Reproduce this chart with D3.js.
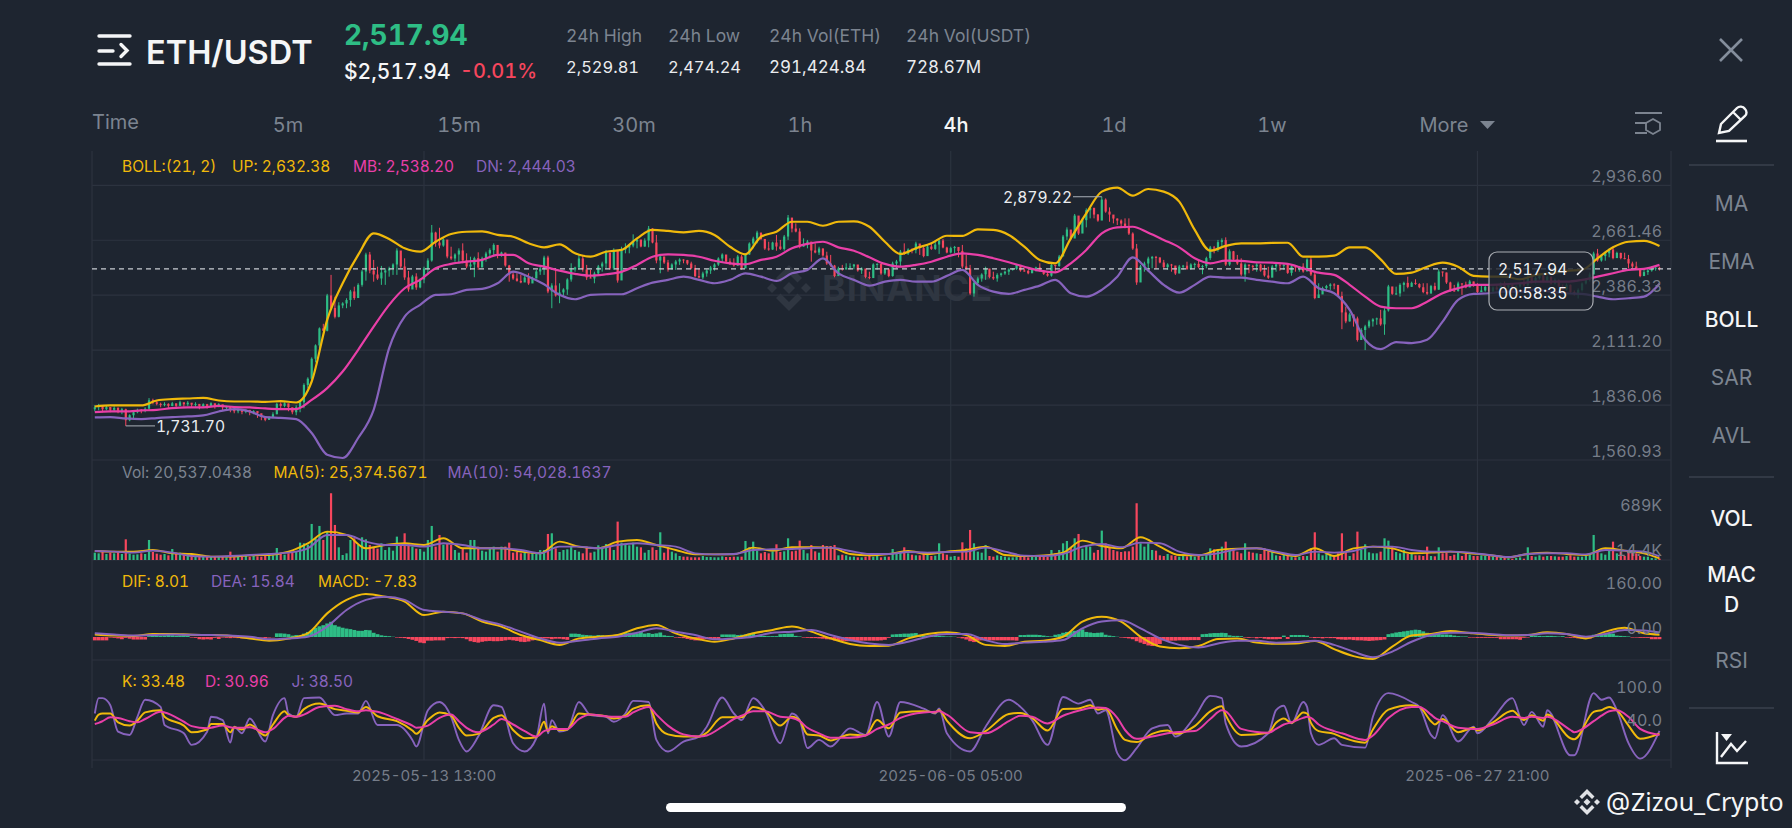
<!DOCTYPE html>
<html lang="en">
<head>
<meta charset="utf-8">
<title>ETH/USDT 4h</title>
<script src="https://d3js.org/d3.v7.min.js"></script>
<style>
html,body{margin:0;padding:0;background:#1e2530;overflow:hidden;}
svg{display:block;}
svg text{font-family:Inter,"Noto Sans",sans-serif;font-feature-settings:"tnum" 1;}
</style>
</head>
<body>
<div id="chart"></div>
<script>
// 4h candles (10 candles a row). open = previous close.
var closes = [
1825,1832,1815,1826,1812,1822,1808,1815,1760,1785,
1800,1812,1808,1818,1860,1850,1842,1838,1842,1832,
1845,1832,1850,1840,1848,1838,1842,1830,1840,1832,
1845,1835,1840,1825,1828,1812,1805,1815,1802,1812,
1800,1806,1795,1780,1762,1772,1790,1842,1832,1845,
1825,1800,1825,1850,1937,1968,2068,2135,2220,2208,
2385,2322,2278,2335,2345,2362,2405,2372,2438,2505,
2590,2510,2490,2470,2500,2510,2520,2540,2610,2530,
2475,2415,2480,2425,2465,2520,2560,2700,2650,2635,
2665,2580,2570,2590,2610,2560,2530,2540,2572,2525,
2570,2595,2612,2638,2585,2600,2535,2490,2470,2458,
2450,2475,2445,2470,2505,2520,2575,2405,2435,2385,
2400,2415,2465,2515,2525,2570,2515,2475,2470,2495,
2530,2545,2600,2520,2610,2460,2615,2625,2635,2655,
2665,2630,2660,2720,2650,2560,2580,2550,2515,2540,
2555,2565,2562,2545,2522,2482,2475,2495,2510,2525,
2540,2570,2590,2555,2545,2535,2580,2520,2590,2645,
2670,2700,2668,2620,2615,2650,2630,2618,2680,2775,
2720,2705,2630,2640,2655,2610,2600,2620,2585,2545,
2535,2482,2520,2515,2525,2530,2540,2510,2520,2478,
2472,2540,2543,2495,2515,2482,2545,2555,2605,2595,
2615,2612,2645,2622,2582,2630,2618,2640,2660,2625,
2600,2622,2628,2608,2530,2520,2395,2448,2470,2490,
2520,2478,2470,2488,2495,2504,2515,2518,2538,2510,
2508,2496,2516,2525,2510,2493,2484,2538,2532,2580,
2680,2715,2670,2785,2695,2762,2812,2824,2790,2760,
2865,2805,2790,2770,2760,2745,2730,2695,2620,2450,
2530,2545,2570,2578,2575,2550,2527,2540,2535,2495,
2530,2534,2518,2540,2543,2527,2532,2572,2625,2620,
2652,2662,2540,2606,2565,2545,2490,2540,2533,2530,
2540,2510,2485,2474,2530,2540,2535,2538,2498,2530,
2528,2530,2505,2565,2490,2372,2390,2422,2432,2440,
2438,2382,2300,2255,2290,2270,2162,2212,2230,2255,
2265,2270,2240,2310,2430,2393,2395,2438,2448,2428,
2448,2442,2426,2402,2394,2432,2414,2505,2500,2450,
2410,2408,2445,2440,2425,2455,2432,2402,2410,2428,
2405,2425,2415,2445,2425,2438,2412,2430,2445,2435,
2480,2450,2472,2485,2455,2478,2445,2462,2430,2415,
2438,2402,2392,2412,2445,2462,2490,2595,2560,2582,
2596,2615,2572,2598,2572,2568,2545,2530,2518,2482,
2502,2510,2520,2524,2517.94];
var highs = [
1835,1842,1832,1832,1825,1830,1825,1822,1818,1790,
1805,1818,1815,1825,1871,1868,1862,1848,1850,1845,
1852,1842,1858,1848,1856,1845,1850,1840,1845,1842,
1850,1842,1845,1832,1832,1825,1815,1820,1812,1815,
1808,1810,1800,1790,1775,1780,1800,1848,1850,1850,
1842,1820,1835,1860,1945,1975,2075,2140,2225,2243,
2393,2488,2379,2351,2351,2371,2413,2429,2446,2513,
2599,2603,2563,2529,2533,2521,2529,2546,2621,2583,
2571,2508,2488,2496,2471,2529,2571,2738,2704,2724,
2671,2643,2629,2596,2621,2646,2596,2579,2579,2601,
2579,2604,2621,2646,2613,2604,2596,2538,2504,2496,
2488,2488,2496,2479,2513,2529,2584,2584,2446,2513,
2446,2421,2471,2546,2529,2588,2588,2538,2513,2504,
2538,2554,2613,2571,2621,2604,2629,2646,2643,2691,
2671,2663,2671,2733,2721,2688,2588,2579,2563,2546,
2563,2571,2566,2563,2554,2538,2521,2504,2516,2533,
2546,2576,2596,2579,2571,2571,2588,2588,2596,2651,
2679,2709,2696,2654,2654,2654,2688,2663,2688,2788,
2763,2746,2721,2671,2663,2646,2646,2629,2621,2604,
2588,2538,2529,2538,2546,2546,2543,2529,2526,2513,
2504,2546,2546,2538,2521,2521,2554,2563,2613,2646,
2621,2621,2654,2629,2629,2638,2646,2654,2671,2668,
2629,2629,2633,2613,2638,2588,2538,2454,2479,2496,
2529,2513,2504,2496,2499,2509,2521,2521,2543,2524,
2521,2513,2521,2529,2546,2509,2504,2546,2538,2588,
2688,2726,2696,2793,2771,2771,2821,2830,2796,2793,
2879.22,2871,2826,2783,2771,2766,2771,2771,2701,2643,
2538,2554,2579,2583,2583,2576,2563,2546,2543,2529,
2538,2538,2554,2546,2549,2563,2538,2579,2633,2633,
2663,2671,2676,2616,2608,2588,2571,2546,2538,2538,
2546,2543,2538,2529,2538,2546,2538,2543,2538,2538,
2533,2533,2546,2571,2579,2504,2446,2429,2438,2446,
2446,2421,2404,2329,2299,2279,2279,2221,2238,2263,
2271,2274,2313,2321,2438,2416,2429,2446,2454,2479,
2454,2466,2446,2446,2446,2438,2449,2516,2504,2499,
2454,2438,2454,2446,2454,2463,2454,2446,2438,2433,
2436,2430,2440,2450,2455,2445,2445,2435,2450,2465,
2490,2485,2480,2495,2490,2485,2480,2470,2465,2440,
2445,2440,2410,2420,2450,2470,2500,2604,2618,2588,
2604,2621,2629,2604,2599,2599,2588,2554,2554,2521,
2513,2521,2529,2529,2529];
var lows = [
1805,1810,1800,1810,1800,1805,1795,1790,1731.7,1755,
1770,1795,1795,1800,1812,1840,1835,1825,1830,1822,
1830,1818,1835,1828,1832,1825,1828,1815,1825,1818,
1830,1818,1825,1808,1810,1800,1795,1795,1790,1795,
1785,1790,1772,1760,1755,1762,1770,1790,1820,1825,
1805,1790,1785,1800,1820,1920,1960,2050,2120,2205,
2205,2312,2270,2275,2321,2321,2329,2363,2379,2429,
2459,2496,2454,2463,2438,2438,2479,2488,2488,2521,
2463,2404,2446,2413,2421,2446,2488,2554,2629,2621,
2629,2571,2563,2554,2546,2546,2521,2513,2476,2513,
2533,2554,2571,2588,2571,2579,2529,2454,2463,2454,
2446,2463,2438,2463,2471,2488,2488,2396,2321,2379,
2346,2379,2388,2454,2504,2513,2504,2463,2471,2446,
2488,2504,2521,2513,2513,2449,2513,2596,2596,2626,
2621,2626,2629,2626,2646,2546,2496,2543,2504,2521,
2513,2538,2546,2538,2516,2476,2471,2466,2479,2493,
2509,2533,2549,2546,2538,2529,2533,2513,2554,2588,
2621,2646,2663,2613,2609,2613,2609,2613,2609,2663,
2701,2701,2621,2629,2621,2554,2596,2588,2579,2538,
2529,2476,2504,2509,2516,2516,2516,2504,2493,2471,
2466,2496,2513,2488,2488,2476,2479,2521,2529,2588,
2588,2596,2596,2588,2576,2588,2613,2613,2593,2621,
2596,2596,2596,2576,2521,2513,2388,2379,2438,2454,
2463,2471,2463,2454,2479,2488,2488,2509,2513,2504,
2504,2491,2504,2504,2504,2488,2479,2479,2504,2529,
2588,2663,2663,2679,2688,2721,2726,2771,2771,2754,
2763,2799,2754,2746,2738,2726,2721,2688,2613,2438,
2488,2504,2504,2521,2521,2546,2521,2513,2504,2488,
2496,2513,2513,2513,2521,2521,2491,2521,2563,2596,
2604,2629,2533,2533,2559,2538,2483,2454,2496,2508,
2504,2504,2479,2468,2496,2504,2509,2513,2493,2484,
2504,2504,2499,2521,2483,2366,2383,2393,2413,2413,
2416,2376,2216,2246,2254,2229,2154,2163,2111.2,2221,
2229,2238,2233,2188,2304,2388,2388,2379,2404,2421,
2429,2438,2421,2396,2388,2404,2409,2413,2479,2443,
2404,2404,2404,2388,2421,2429,2429,2396,2404,2404,
2398,2398,2410,2410,2420,2420,2405,2405,2425,2430,
2430,2445,2445,2465,2450,2450,2440,2440,2425,2410,
2410,2395,2385,2370,2405,2440,2455,2496,2554,2554,
2559,2576,2566,2579,2566,2566,2521,2521,2513,2476,
2483,2488,2504,2509,2510];
var firstOpen = 1815;

// volume per candle, thousands
var volumes = [
110,100,120,90,110,100,120,90,310,95,
80,85,100,90,300,120,95,80,90,70,
165,110,110,90,100,80,60,55,55,60,
50,55,50,45,40,125,40,50,45,60,
50,60,55,50,65,70,70,180,110,80,
100,110,120,260,250,230,540,325,510,300,
420,1000,525,190,75,100,300,325,225,340,
310,225,200,170,250,150,190,140,350,225,
400,240,200,170,165,125,300,510,200,375,
230,250,225,150,110,175,110,300,300,200,
140,125,175,200,125,200,200,260,110,120,
100,110,100,110,100,150,150,390,400,175,
120,150,160,200,150,125,100,200,110,125,
220,200,240,220,150,575,260,240,220,260,
200,190,110,150,190,150,415,110,190,125,
100,60,50,50,40,40,40,60,45,45,
40,40,55,45,45,50,50,50,285,190,
275,140,100,120,100,130,235,120,130,325,
130,140,290,150,100,225,130,110,225,210,
210,225,70,80,70,50,50,40,40,50,
60,50,60,40,50,50,165,90,110,190,
100,80,70,70,90,100,60,65,250,100,
80,50,60,50,265,175,450,250,125,110,
225,60,50,70,60,50,40,40,50,50,
50,40,45,50,60,55,50,150,100,150,
250,285,180,325,390,170,220,200,110,150,
440,250,180,150,130,120,130,130,200,850,
250,200,250,150,140,70,60,90,70,60,
50,60,55,60,50,60,50,100,175,160,
150,200,275,150,175,125,100,250,125,110,
100,90,175,130,150,70,60,100,70,50,
40,50,60,60,175,415,100,70,90,70,
60,100,400,130,60,100,425,150,235,115,
100,100,125,325,290,200,120,100,150,90,
100,70,70,60,200,60,55,190,100,110,
60,80,120,60,90,80,60,60,70,60,
60,50,50,40,30,25,20,30,40,20,
190,60,50,70,50,60,60,55,50,50,
60,70,50,50,50,60,80,375,150,100,
80,140,275,100,125,60,120,150,100,60,
50,50,30,25,20.5];

// MACD histogram per candle
var macdHist = [
-12,-12,-12,-12,-2,-3,-5,-8,-3,-6,
-9,-9,-9,-9,3,4,5,4,5,7,
6,4,5,6,4,-2,-3,-8,-9,-8,
-9,-3,-7,-2,-3,-4,-3,-4,-5,-5,
-3,-6,-4,-2,-5,-2,-1,13,13,12,
10,5,7,6,12,18,25,33,38,42,
48,54,42,37,33,30,28,25,22,22,
25,24,15,10,6,4,3,1,-2,-3,
-4,-7,-10,-14,-20,-22,-13,-13,-12,-12,
-12,-4,-3,-4,-3,-4,-8,-15,-18,-20,
-17,-15,-14,-15,-15,-14,-12,-10,-12,-14,
-17,-18,-16,-12,-10,-7,-5,-5,-8,-6,
-6,-8,-10,12,12,11,8,7,6,5,
7,6,4,4,5,8,12,14,15,15,
13,20,12,14,11,13,16,6,4,3,
-2,-3,-4,-7,-10,-12,-12,-9,-8,-8,
-8,-8,9,9,9,9,7,8,9,12,
15,6,4,4,3,3,3,10,11,12,
12,4,2,-2,-3,-4,-4,-5,-6,-8,
-9,-12,-13,-14,-15,-15,-14,-14,-13,-13,
-13,-13,-13,-12,-10,-3,9,10,11,12,
12,13,14,8,6,5,5,4,4,3,
2,2,1,-2,-5,-9,-15,-18,-13,-12,
-12,-12,-12,-12,-12,-12,-12,-12,-13,7,
7,8,8,8,7,5,3,2,8,10,
15,18,20,22,25,27,18,16,14,15,
16,8,5,3,1,-2,-3,-5,-8,-15,
-20,-25,-30,-32,-30,-25,-12,-14,-13,-13,
-12,-12,-12,-11,-11,-11,10,11,13,14,
14,15,14,6,4,4,3,-2,-3,-2,
-5,-3,-6,-8,-8,-8,-7,5,-7,7,
7,7,7,5,-2,-4,-3,-5,-3,-4,
-4,-8,-9,-10,-9,-11,-12,-12,-13,-14,
-13,-12,-11,-9,10,13,16,18,20,22,
24,26,25,20,15,13,12,12,9,9,
8,5,3,2,2,-2,-2,-3,-3,-3,
-3,-3,-3,-8,-8,-8,-8,-8,-10,-3,
-2,5,5,4,3,4,4,3,2,3,
-2,-3,-3,-5,-6,-6,-6,8,9,10,
10,11,12,5,4,3,2,-2,-2,-3,
-3,-3,-8,-8,-7.83];

// BOLL, read every 4th candle
var bollUp = [1829,1834,1834,1834,1859,1866,1869,1872,1859,1854,1854,1852,1856,1849,1954,2263,2446,2588,2696,2668,2621,2604,2654,2693,2704,2706,2688,2679,2646,2626,2641,2596,2579,2604,2613,2671,2713,
2708,2701,2708,2688,2629,2591,2679,2704,2754,2754,2734,2754,2756,2729,2654,2593,2621,2646,2684,2683,2716,2713,2688,2629,2563,2546,2671,2796,2905,2925,2885,2918,2905,2855,2713,2609,2633,2646,
2646,2648,2649,2579,2579,2584,2626,2626,2566,2493,2499,2529,2549,2529,2483,2479,2479,2466,2488,2496,2508,2513,2571,2626,2654,2658,2632.38];
var bollMid = [1801,1804,1804,1809,1812,1821,1824,1824,1832,1826,1824,1819,1816,1816,1862,1921,2004,2113,2229,2338,2421,2463,2521,2543,2554,2563,2588,2588,2546,2529,2509,2493,2484,2491,2503,2538,2579,
2591,2588,2579,2559,2546,2541,2563,2579,2621,2643,2654,2626,2609,2576,2543,2529,2538,2554,2579,2596,2588,2571,2551,2529,2509,2501,2546,2613,2696,2726,2729,2699,2663,2626,2571,2546,2559,2558,
2551,2549,2543,2521,2499,2488,2438,2379,2329,2321,2321,2354,2396,2421,2438,2438,2441,2446,2454,2454,2454,2463,2479,2496,2513,2518,2538.2];
var bollDn = [1774,1776,1769,1766,1771,1776,1779,1784,1804,1816,1804,1776,1772,1766,1696,1587,1571,1671,1812,2121,2279,2338,2388,2391,2413,2418,2446,2504,2479,2441,2388,2366,2388,2391,2391,2421,2449,
2463,2479,2463,2446,2463,2496,2479,2458,2496,2513,2571,2496,2463,2434,2454,2463,2454,2454,2483,2513,2438,2404,2393,2413,2434,2463,2396,2379,2413,2479,2576,2509,2438,2399,2438,2479,2474,2474,
2463,2454,2446,2479,2421,2396,2313,2163,2116,2151,2146,2163,2254,2363,2393,2396,2404,2404,2413,2404,2396,2393,2379,2366,2371,2379,2444.03];

// volume MAs and MACD lines, read every 5th candle plus the last one (thousands for volume)
var volMa5 = [135,125,125,150,100,90,50,50,70,75,125,250,425,375,175,225,250,225,325,175,175,175,125,100,275,200,175,275,300,225,
150,85,85,85,185,140,190,190,185,90,70,90,135,90,125,150,200,75,60,70,110,290,210,175,340,200,75,70,150,170,
175,110,60,175,60,175,200,175,100,110,125,100,75,40,90,110,90,75,175,140,100,25.37];
var volMa10 = [135,125,110,140,110,60,50,60,75,90,110,175,375,375,275,225,225,200,250,225,175,175,150,100,200,200,175,225,250,225,
200,100,85,90,150,160,165,180,185,135,90,90,120,110,120,125,185,125,65,60,90,200,240,190,260,250,125,75,100,160,
175,125,75,125,110,135,200,200,150,125,125,110,75,45,90,100,100,85,150,140,125,54.03];
var dif = [9,5,4,11,11,8,7,4,-5,-13,-5,13,84,132,153,143,126,78,90,84,55,37,7,-11,-28,-5,1,7,31,43,
13,-5,-17,-5,13,25,37,19,-5,-25,-32,-31,-5,11,17,7,-28,-32,-17,-13,1,55,72,55,1,-34,-40,-32,-7,-5,
-20,-24,-23,-14,-43,-68,-78,-34,5,11,21,14,8,5,7,17,11,-5,19,33,13,8.01];
var dea = [13,9,5,7,9,8,7,5,1,-8,-5,1,37,96,132,143,132,96,90,84,60,43,19,-5,-20,-13,-5,1,15,31,
19,7,-8,-5,1,15,19,25,7,-11,-23,-28,-17,1,11,11,-11,-25,-20,-17,-11,31,55,60,31,-5,-28,-37,-23,-13,
-13,-20,-18,-13,-28,-52,-72,-52,-17,7,15,15,11,6,7,13,11,1,11,25,23,15.84];

// KDJ, read at the turning points of J
var kdjIdx = [0,1,2,4,6,9,11,13,17,18,23,25,29,30,33,35,36,38,40,44,46,49,50,52,54,58,62,65,68,70,73,78,82,83,86,89,92,94,96,99,103,105,108,111,114,116,117,118,120,122,125,128,132,134,137,139,143,145,
148,152,156,158,162,165,167,170,173,177,180,182,184,187,190,195,199,202,205,208,214,217,218,220,226,230,236,239,242,246,250,254,257,259,261,264,266,269,273,277,279,284,288,291,292,296,
303,305,307,309,312,313,314,316,320,322,328,330,334,340,342,345,346,348,352,356,357,361,366,369,371,374,375,381,382,387,389,391,393,396,399,404];
var kdjJ = [70,98,98,85,37,31,64,95,82,49,34,13,37,64,58,17,46,34,61,19,67,98,70,64,98,99,67,70,70,93,49,49,22,10,76,91,64,22,1,28,85,82,16,1,25,88,34,58,37,40,91,67,64,55,70,93,91,22,
1,19,28,46,99,70,58,98,76,16,70,58,7,22,10,43,31,91,28,91,79,70,79,34,1,46,95,82,58,13,100,88,95,70,76,-2,-15,7,43,49,28,64,102,98,52,10,
34,76,84,52,91,82,34,13,25,13,8,64,107,91,82,31,25,67,19,46,34,61,98,49,73,46,76,-6,-6,107,95,99,76,16,-12,38.5];
var kdjD = [51,53,56,63,62,56,54,60,73,72,55,47,43,44,48,45,44,44,45,36,42,62,66,64,68,82,84,78,74,76,73,60,48,44,48,62,68,56,44,36,50,60,50,38,28,38,40,42,42,42,60,68,65,64,64,72,82,68,
48,32,28,30,46,60,66,74,74,64,62,56,44,34,26,26,30,42,50,62,72,73,74,68,36,34,56,66,64,52,66,75,80,81,80,62,40,24,28,34,36,38,60,76,74,42,
35,42,50,54,62,64,62,50,38,34,22,30,62,82,82,68,62,56,44,42,42,50,64,62,64,62,64,40,36,56,66,74,76,64,42,30.96];
var kdjK = [57,68,70,70,54,48,57,72,76,64,48,36,41,51,51,36,45,41,50,30,50,74,67,64,78,88,78,75,72,82,65,56,39,33,58,72,66,44,30,33,62,67,40,25,27,55,38,47,40,41,70,68,65,61,66,79,85,52,
32,28,28,35,63,63,63,82,75,48,64,57,32,30,21,32,30,58,43,72,74,72,76,57,25,38,69,71,62,39,78,79,85,77,79,41,22,18,33,39,33,47,74,83,67,31,
35,53,61,53,72,70,53,38,33,27,17,41,77,85,82,56,50,60,36,44,39,54,75,58,67,57,68,25,23,73,76,82,76,48,24,33.48];

var priceTicks = [2936.60,2661.46,2386.33,2111.20,1836.06,1560.93];
var volTicks = [689,14.4];
var macdTicks = [160,0];
var kdjTicks = [100,40];
var timeTickIdx = [85,221,357];
var timeTickLabels = ["2025-05-13 13:00","2025-06-05 05:00","2025-06-27 21:00"];
var lastPrice = 2517.94;

var tabs = ["5m","15m","30m","1h","4h","1d","1w"];
var tabX = [288,459,634,800,956,1114,1272];
var navTop = ["MA","EMA","BOLL","SAR","AVL"];
var navTopY = [203,261,319,377,435];

var green="#2ebd85", red="#f6465d", yellow="#f0b90b", pink="#e93fa8", purple="#8763bd";
var gridCol="#2c333f", axisCol="#767d89", gray="#7c8490", white="#eaecef";

var n = closes.length;
var opens = closes.map(function(c,i){ return i==0 ? firstOpen : closes[i-1]; });

var svg = d3.select("#chart").append("svg").attr("width",1792).attr("height",828);
svg.append("rect").attr("width",1792).attr("height",828).attr("fill","#1e2530");

var x = d3.scaleLinear().domain([0,404]).range([94.8,1659.5]);
var yPrice = d3.scaleLinear().domain([1560.93,2936.60]).range([460,185.3]);
var yVol = d3.scaleLinear().domain([0,689]).range([560,514]);
var yMacd = d3.scaleLinear().domain([0,160]).range([637,592]);
var yKdj = d3.scaleLinear().domain([0,100]).range([752,697]);

var left=92, right=1671;

function txt(s,px,py,size,col,anchor,weight){
  return svg.append("text").text(s).attr("x",px).attr("y",py)
    .attr("font-size",size).attr("fill",col)
    .attr("text-anchor",anchor||"start").attr("font-weight",weight||400)
    .attr("dominant-baseline","central");
}

// grid
var grid = svg.append("g").attr("stroke",gridCol).attr("stroke-width",1.2);
priceTicks.forEach(function(t){
  grid.append("line").attr("x1",left).attr("x2",right).attr("y1",yPrice(t)).attr("y2",yPrice(t));
});
[yVol(0),660,760].forEach(function(py){
  grid.append("line").attr("x1",left).attr("x2",right).attr("y1",py).attr("y2",py);
});
timeTickIdx.forEach(function(t){
  grid.append("line").attr("x1",x(t)).attr("x2",x(t)).attr("y1",151).attr("y2",760);
});
[left,right].forEach(function(px){
  grid.append("line").attr("x1",px).attr("x2",px).attr("y1",151).attr("y2",768);
});

// watermark
var wm = svg.append("g").attr("fill","#2f3641").attr("transform","translate(789,288)");
function diamond(g,cx,cy,r){
  g.append("path").attr("d","M"+cx+","+(cy-r)+"L"+(cx+r)+","+cy+"L"+cx+","+(cy+r)+"L"+(cx-r)+","+cy+"Z");
}
diamond(wm,0,0,6); diamond(wm,-17,0,5); diamond(wm,17,0,5);
wm.append("path").attr("d","M0,-23L13,-10L8.5,-5.5L0,-14L-8.5,-5.5L-13,-10Z");
wm.append("path").attr("d","M0,23L13,10L8.5,5.5L0,14L-8.5,5.5L-13,10Z");
txt("BINANCE",822,288,36,"#2f3641","start",700).attr("letter-spacing",1);

// candles
var candles = svg.append("g");
candles.selectAll("line").data(d3.range(n)).enter().append("line")
  .attr("x1",function(i){return x(i);}).attr("x2",function(i){return x(i);})
  .attr("y1",function(i){return yPrice(highs[i]);}).attr("y2",function(i){return yPrice(lows[i]);})
  .attr("stroke",function(i){return closes[i]>=opens[i]?green:red;}).attr("stroke-width",1);
candles.selectAll("rect").data(d3.range(n)).enter().append("rect")
  .attr("x",function(i){return x(i)-1.1;}).attr("width",2.2)
  .attr("y",function(i){return yPrice(Math.max(opens[i],closes[i]));})
  .attr("height",function(i){return Math.max(1,Math.abs(yPrice(opens[i])-yPrice(closes[i])));})
  .attr("fill",function(i){return closes[i]>=opens[i]?green:red;});

// last price line
svg.append("line").attr("x1",left).attr("x2",right).attr("y1",yPrice(lastPrice)).attr("y2",yPrice(lastPrice))
  .attr("stroke","#c9cdd2").attr("stroke-width",1.2).attr("stroke-dasharray","5,4");

function drawLine(idx,vals,scale,col,w){
  var line = d3.line().x(function(d){return x(d[0]);}).y(function(d){return scale(d[1]);}).curve(d3.curveMonotoneX);
  svg.append("path").datum(idx.map(function(t,i){return [t,vals[i]];}))
    .attr("d",line).attr("fill","none").attr("stroke",col).attr("stroke-width",w||1.7).attr("stroke-linejoin","round");
}
var step4 = d3.range(0,405,4);
var step5 = d3.range(0,401,5).concat([404]);
drawLine(step4,bollUp,yPrice,yellow,2.2);
drawLine(step4,bollMid,yPrice,pink,2.2);
drawLine(step4,bollDn,yPrice,purple,2.2);

// high / low markers
svg.append("path").attr("d","M"+x(8)+","+yPrice(1731.7)+"H155").attr("stroke","#aab0b8").attr("fill","none").attr("stroke-width",1);
txt("1,731.70",156,426,15.6,white);
svg.append("path").attr("d","M"+x(260)+","+yPrice(2879.22)+"H1073").attr("stroke","#aab0b8").attr("fill","none").attr("stroke-width",1);
txt("2,879.22",1072,197.5,15.6,white,"end");

// volume
svg.append("g").selectAll("rect").data(d3.range(n)).enter().append("rect")
  .attr("x",function(i){return x(i)-1.1;}).attr("width",2.2)
  .attr("y",function(i){return yVol(volumes[i]);})
  .attr("height",function(i){return yVol(0)-yVol(volumes[i]);})
  .attr("fill",function(i){return closes[i]>=opens[i]?green:red;});
drawLine(step5,volMa5,yVol,yellow,1.9);
drawLine(step5,volMa10,yVol,purple,1.9);

// macd
svg.append("g").selectAll("rect").data(d3.range(n)).enter().append("rect")
  .attr("x",function(i){return x(i)-1.9;}).attr("width",3.8)
  .attr("y",function(i){return macdHist[i]>=0?yMacd(macdHist[i]):yMacd(0);})
  .attr("height",function(i){return Math.abs(yMacd(macdHist[i])-yMacd(0));})
  .attr("fill",function(i){return macdHist[i]>=0?green:red;});
drawLine(step5,dif,yMacd,yellow,2);
drawLine(step5,dea,yMacd,purple,2);

// kdj
drawLine(kdjIdx,kdjJ,yKdj,purple,1.9);
drawLine(kdjIdx,kdjK,yKdj,yellow,2);
drawLine(kdjIdx,kdjD,yKdj,pink,2);

// axis labels
priceTicks.forEach(function(t){ txt(d3.format(",.2f")(t),1662,yPrice(t)-9,16,axisCol,"end"); });
volTicks.forEach(function(t){ txt(t+"K",1662,yVol(t)-9,16,axisCol,"end"); });
macdTicks.forEach(function(t){ txt(d3.format(".2f")(t),1662,yMacd(t)-9.5,16,axisCol,"end"); });
kdjTicks.forEach(function(t){ txt(d3.format(".1f")(t),1662,yKdj(t)-10,16,axisCol,"end"); });
timeTickIdx.forEach(function(t,i){ txt(timeTickLabels[i],x(t),775,15,axisCol,"middle"); });

// indicator captions
var capSize = 15.5;
txt("BOLL:(21, 2)",122,166.5,capSize,yellow);
txt("UP: 2,632.38",232,166.5,capSize,yellow);
txt("MB: 2,538.20",353,166.5,capSize,pink);
txt("DN: 2,444.03",476,166.5,capSize,purple);
txt("Vol: 20,537.0438",122,472,capSize,gray);
txt("MA(5): 25,374.5671",273.5,472,capSize,yellow);
txt("MA(10): 54,028.1637",447.5,472,capSize,purple);
txt("DIF: 8.01",122,581.5,capSize,yellow);
txt("DEA: 15.84",211,581.5,capSize,purple);
txt("MACD: -7.83",318,581.5,capSize,yellow);
txt("K: 33.48",122,681.5,capSize,yellow);
txt("D: 30.96",205,681.5,capSize,pink);
txt("J: 38.50",291.5,681.5,capSize,purple);

// countdown box
svg.append("rect").attr("x",1489).attr("y",252).attr("width",104).attr("height",58).attr("rx",8)
  .attr("fill","#1e2530").attr("fill-opacity",0.82).attr("stroke","#a9adb3").attr("stroke-width",1.2);
txt("2,517.94",1498,269,15.7,"#f2f3f5");
txt("00:58:35",1498,293,15.7,"#f2f3f5");
svg.append("path").attr("d","M1577,263L1583,269L1577,275").attr("fill","none").attr("stroke","#f2f3f5").attr("stroke-width",1.5);

// header
var head = svg.append("g").attr("stroke","#f5f6f7").attr("stroke-width",3.4).attr("fill","none").attr("stroke-linecap","round");
head.append("path").attr("d","M99,36H130M99,51H113M99,64H130M121,44.5L127,50.5L121,56.5");
txt("ETH/USDT",146,52,32.5,"#f5f6f7","start",600);
txt("2,517.94",344,35,28,green,"start",700);
txt("$2,517.94",344,71,21,"#f5f6f7","start",500);
txt("-0.01%",460,71,20,red,"start",500);
txt("24h High",566,35,17.5,gray);
txt("24h Low",668,35,17.5,gray);
txt("24h Vol(ETH)",769,35,17.5,gray);
txt("24h Vol(USDT)",906,35,17.5,gray);
txt("2,529.81",566,66.5,16.5,white);
txt("2,474.24",668,66.5,16.5,white);
txt("291,424.84",769,66.5,17,white);
txt("728.67M",906,66.5,17,white);

// close
svg.append("path").attr("d","M1720,39L1742,61M1742,39L1720,61").attr("stroke","#848e9c").attr("stroke-width",2.6).attr("fill","none");

// tabs
txt("Time",92,122,20,gray);
tabs.forEach(function(t,i){
  txt(t,tabX[i],125,20,t=="4h"?"#f5f6f7":gray,"middle",t=="4h"?500:400);
});
txt("More",1444,125,20,gray,"middle");
svg.append("path").attr("d","M1480,121H1495L1487.5,129Z").attr("fill",gray);
svg.append("path").attr("d","M1635,113H1662M1635,123H1647M1635,133H1647M1653,119L1660,123V130L1653,134L1646,130V123Z")
  .attr("stroke",gray).attr("stroke-width",1.8).attr("fill","none");

// right nav
svg.append("path").attr("d","M1719,133L1721,124L1737,108C1739,106 1743,106 1745,109C1747,111 1747,114 1745,116L1729,131Z M1733,112L1741,120")
  .attr("stroke","#f5f6f7").attr("stroke-width",2.4).attr("fill","none");
svg.append("line").attr("x1",1716).attr("x2",1747).attr("y1",141).attr("y2",141).attr("stroke","#f5f6f7").attr("stroke-width",2.6);
[165,477,708].forEach(function(py){
  svg.append("line").attr("x1",1689).attr("x2",1774).attr("y1",py).attr("y2",py).attr("stroke","#3a414c").attr("stroke-width",1.5);
});
navTop.forEach(function(t,i){
  txt(t,1731.5,navTopY[i],21,t=="BOLL"?"#f5f6f7":"#7c8490","middle",t=="BOLL"?500:400);
});
txt("VOL",1731.5,518,21,"#f5f6f7","middle",500);
txt("MAC",1731.5,574,21,"#f5f6f7","middle",500);
txt("D",1731.5,604,21,"#f5f6f7","middle",500);
txt("RSI",1731.5,660,21,"#7c8490","middle");
svg.append("path").attr("d","M1717,732V763H1748M1721,757L1731,744L1737,751L1746,741")
  .attr("stroke","#f5f6f7").attr("stroke-width",2.4).attr("fill","none");
svg.append("path").attr("d","M1721,734H1732L1726.5,741Z").attr("fill","#f5f6f7");

// footer
svg.append("rect").attr("x",666).attr("y",803).attr("width",460).attr("height",9).attr("rx",4.5).attr("fill","#ffffff");
var lg = svg.append("g").attr("fill","#e0e2e5").attr("transform","translate(1587,802)");
diamond(lg,0,0,3.5); diamond(lg,-10,0,3); diamond(lg,10,0,3);
lg.append("path").attr("d","M0,-13L7.5,-5.5L5,-3L0,-8L-5,-3L-7.5,-5.5Z");
lg.append("path").attr("d","M0,13L7.5,5.5L5,3L0,8L-5,3L-7.5,5.5Z");
txt("@",1606,801,25,"#f5f6f7");
txt("Zizou_Crypto",1631,801,25,"#f5f6f7").style("font-family","'Noto Sans'");
</script>
</body>
</html>
